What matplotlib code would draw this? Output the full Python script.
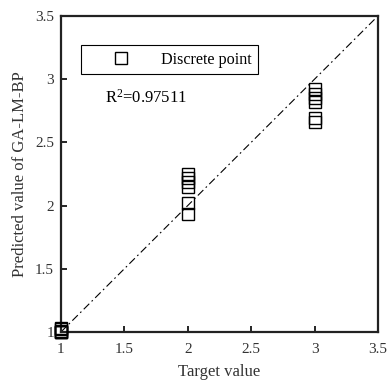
import matplotlib
matplotlib.use('Agg')
import matplotlib.pyplot as plt

plt.rcParams['font.family'] = ['Liberation Serif', 'DejaVu Serif']
plt.rcParams['mathtext.default'] = 'regular'

# target / predicted values
target = [1, 1, 1, 1, 1, 1,
          2, 2, 2, 2, 2, 2,
          3, 3, 3, 3, 3, 3]
predicted = [1.03, 1.02, 1.01, 1.0, 1.0, 1.0,
             2.25, 2.22, 2.19, 2.15, 2.02, 1.93,
             2.92, 2.88, 2.85, 2.82, 2.69, 2.66]
diag = [1, 3.5]
ticks = [1, 1.5, 2, 2.5, 3, 3.5]
tick_labels = ['1', '1.5', '2', '2.5', '3', '3.5']

fig = plt.figure(figsize=(3.88, 3.81), dpi=100)
ax = fig.add_axes([0.157, 0.1286, 0.817, 0.8294])

ax.plot(target, predicted, 's', ms=8.6, mfc='none', mec='black', mew=1.0,
        clip_on=False, label='Discrete point', zorder=3)
ax.plot(diag, diag, color='black', lw=0.8, ls=(0, (7, 3, 1.5, 3)), zorder=2)

ax.set_xlim(1, 3.5)
ax.set_ylim(1, 3.5)
ax.set_xticks(ticks)
ax.set_xticklabels(tick_labels)
ax.set_yticks(ticks)
ax.set_yticklabels(tick_labels)
ax.tick_params(direction='in', length=4, width=1.2, labelsize=11,
               colors='black', labelcolor='#333333')
ax.tick_params(axis='x', pad=8)
ax.tick_params(axis='y', pad=5)
for s in ax.spines.values():
    s.set_linewidth(1.6)
    s.set_color('#222222')

ax.set_xlabel('Target value', fontsize=12, labelpad=5.5, color='#333333')
ax.set_ylabel('Predicted value of GA-LM-BP', fontsize=12, labelpad=5,
              color='#333333')

ax.text(1.347, 2.814, r'R$^{2}$=0.97511', fontsize=12)

leg = ax.legend(loc='upper left', bbox_to_anchor=(0.062, 0.908), borderaxespad=0,
                fontsize=11.6, numpoints=1, handlelength=4.2, handletextpad=0.4,
                fancybox=False, edgecolor='black', framealpha=1)
leg.get_frame().set_linewidth(0.8)

plt.savefig('out.png', dpi=100)
